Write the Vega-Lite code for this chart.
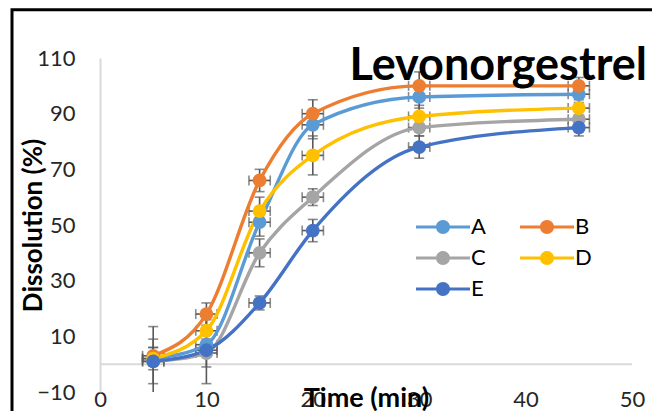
{
  "$schema": "https://vega.github.io/schema/vega-lite/v6.json",
  "width": 532,
  "height": 334,
  "autosize": {"type": "none"},
  "padding": {"left": 100, "top": 58, "right": 20, "bottom": 19},
  "background": "white",
  "config": {
    "view": {"stroke": null},
    "font": "Lato",
    "legend": {
      "orient": "none",
      "legendX": 332,
      "legendY": 158,
      "columns": 2,
      "direction": "horizontal",
      "symbolType": "M-3.86,-0.21H3.86V0.21H-3.86Z M-1,0A1,1 0 1,1 1,0A1,1 0 1,1 -1,0Z",
      "symbolSize": 196,
      "symbolStrokeWidth": 0,
      "symbolOpacity": 1,
      "labelFontSize": 22,
      "labelFont": "Lato",
      "labelColor": "#000000",
      "labelOffset": 17,
      "columnPadding": 33,
      "rowPadding": 9,
      "padding": 0
    }
  },
  "title": {
    "text": "Levonorgestrel",
    "anchor": "end",
    "frame": "group",
    "fontSize": 45,
    "font": "Lato",
    "fontWeight": "bold",
    "color": "#000000",
    "offset": -81,
    "dx": 15
  },
  "datasets": {
    "d": [
      {"s": "A", "t": 5, "v": 2, "ey": 2, "ex": 1},
      {"s": "A", "t": 10, "v": 7, "ey": 4, "ex": 1},
      {"s": "A", "t": 15, "v": 51, "ey": 5, "ex": 1},
      {"s": "A", "t": 20, "v": 86, "ey": 5, "ex": 1},
      {"s": "A", "t": 30, "v": 96, "ey": 4, "ex": 1},
      {"s": "A", "t": 45, "v": 97, "ey": 3, "ex": 1},
      {"s": "B", "t": 5, "v": 3, "ey": 3, "ex": 1},
      {"s": "B", "t": 10, "v": 18, "ey": 4, "ex": 1},
      {"s": "B", "t": 15, "v": 66, "ey": 4, "ex": 1},
      {"s": "B", "t": 20, "v": 90, "ey": 5, "ex": 1},
      {"s": "B", "t": 30, "v": 100, "ey": 5, "ex": 1},
      {"s": "B", "t": 45, "v": 100, "ey": 3, "ex": 1},
      {"s": "C", "t": 5, "v": 1, "ey": 12.5, "ex": 1},
      {"s": "C", "t": 10, "v": 4, "ey": 5, "ex": 1},
      {"s": "C", "t": 15, "v": 40, "ey": 5, "ex": 1},
      {"s": "C", "t": 20, "v": 60, "ey": 3, "ex": 1},
      {"s": "C", "t": 30, "v": 85, "ey": 3, "ex": 1},
      {"s": "C", "t": 45, "v": 88, "ey": 3, "ex": 1},
      {"s": "D", "t": 5, "v": 2, "ey": 4, "ex": 1},
      {"s": "D", "t": 10, "v": 12, "ey": 4, "ex": 1},
      {"s": "D", "t": 15, "v": 55, "ey": 5, "ex": 1},
      {"s": "D", "t": 20, "v": 75, "ey": 7, "ex": 1},
      {"s": "D", "t": 30, "v": 89, "ey": 4, "ex": 1},
      {"s": "D", "t": 45, "v": 92, "ey": 3, "ex": 1},
      {"s": "E", "t": 5, "v": 1, "ey": 8, "ex": 1},
      {"s": "E", "t": 10, "v": 5, "ey": 12, "ex": 1},
      {"s": "E", "t": 15, "v": 22, "ey": 2.5, "ex": 1},
      {"s": "E", "t": 20, "v": 48, "ey": 4, "ex": 1},
      {"s": "E", "t": 30, "v": 78, "ey": 4, "ex": 1},
      {"s": "E", "t": 45, "v": 85, "ey": 3, "ex": 1}
    ],
    "frame": [{"k": "frame"}]
  },
  "layer": [
    {
      "data": {"name": "frame"},
      "mark": {"type": "rule", "color": "#d9d9d9", "strokeWidth": 2},
      "encoding": {"y": {"datum": 0, "type": "quantitative"}}
    },
    {
      "data": {"name": "frame"},
      "mark": {"type": "rect", "fill": null, "fillOpacity": 0, "stroke": "#000000", "strokeWidth": 3, "clip": false},
      "encoding": {
        "x": {"datum": -8.27, "type": "quantitative"},
        "x2": {"datum": 60},
        "y": {"datum": 127.3, "type": "quantitative"},
        "y2": {"datum": -30}
      }
    },
    {
      "data": {"name": "d"},
      "mark": {"type": "errorbar", "ticks": {"size": 10}, "color": "#595959", "thickness": 1.6, "clip": true},
      "encoding": {
        "x": {"field": "t", "type": "quantitative", "title": "Time (min)"},
        "y": {"field": "v", "type": "quantitative", "title": "Dissolution (%)"},
        "yError": {"field": "ey"}
      }
    },
    {
      "data": {"name": "d"},
      "mark": {"type": "errorbar", "ticks": {"size": 10}, "color": "#595959", "thickness": 1.6, "clip": true},
      "encoding": {
        "y": {"field": "v", "type": "quantitative", "title": "Dissolution (%)"},
        "x": {"field": "t", "type": "quantitative", "title": "Time (min)"},
        "xError": {"field": "ex"}
      }
    },
    {
      "data": {"name": "d"},
      "mark": {"type": "line", "interpolate": "monotone", "strokeWidth": 3.4},
      "encoding": {
        "x": {
          "field": "t",
          "type": "quantitative",
          "title": "Time (min)",
          "scale": {"domain": [0, 50], "nice": false, "zero": false},
          "axis": {
            "values": [0, 10, 20, 30, 40, 50],
            "domain": false,
            "ticks": false,
            "grid": false,
            "labelFlush": false,
            "labelFontSize": 22,
            "labelFont": "Lato",
            "labelColor": "#262626",
            "labelPadding": -3,
            "titleFont": "Lato",
            "titleFontSize": 27,
            "titleFontWeight": "bold",
            "titleColor": "#000000",
            "titlePadding": -25
          }
        },
        "y": {
          "field": "v",
          "type": "quantitative",
          "title": "Dissolution (%)",
          "scale": {"domain": [-10, 110], "nice": false, "zero": false},
          "axis": {
            "values": [-10, 10, 30, 50, 70, 90, 110],
            "domain": true,
            "domainColor": "#d9d9d9",
            "domainWidth": 2,
            "ticks": false,
            "grid": false,
            "labelFontSize": 22,
            "labelFont": "Lato",
            "labelColor": "#262626",
            "labelPadding": 25,
            "titleFont": "Lato",
            "titleFontSize": 26,
            "titleFontWeight": "bold",
            "titleColor": "#000000",
            "titleX": -67,
            "titleY": 167,
            "titleAlign": "center",
            "titleBaseline": "middle"
          }
        },
        "color": {
          "field": "s",
          "type": "nominal",
          "title": null,
          "scale": {"domain": ["A", "B", "C", "D", "E"], "range": ["#5B9BD5", "#ED7D31", "#A5A5A5", "#FFC000", "#4472C4"]}
        }
      }
    },
    {
      "data": {"name": "d"},
      "mark": {"type": "point", "filled": true, "size": 190, "opacity": 1},
      "encoding": {
        "x": {"field": "t", "type": "quantitative", "title": "Time (min)"},
        "y": {"field": "v", "type": "quantitative", "title": "Dissolution (%)"},
        "color": {"field": "s", "type": "nominal", "title": null}
      }
    }
  ]
}
